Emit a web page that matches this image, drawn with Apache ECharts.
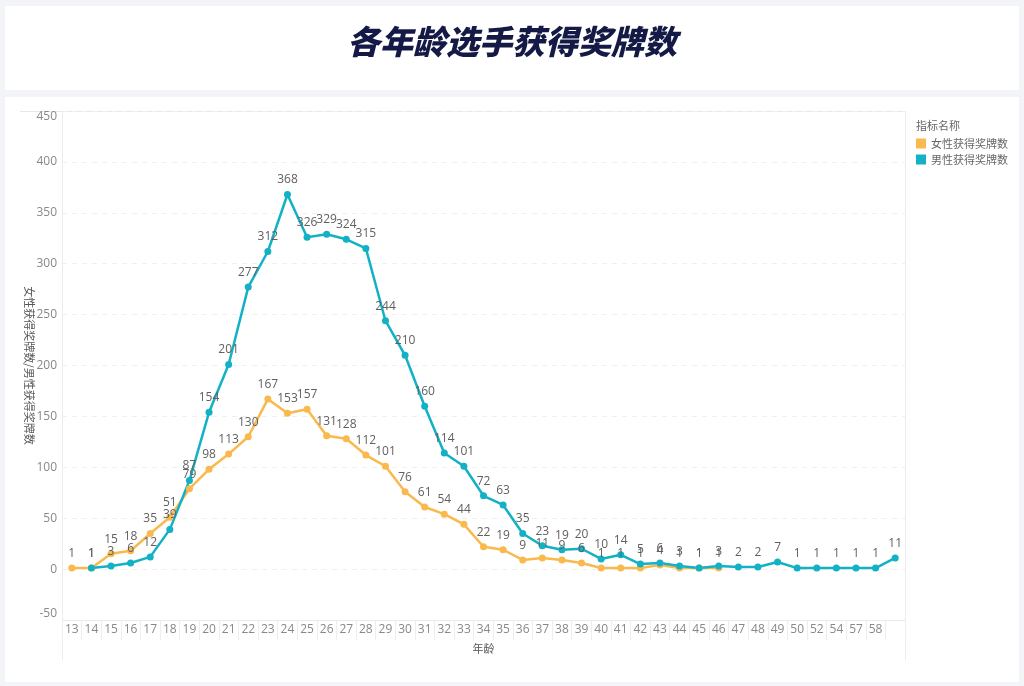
<!DOCTYPE html>
<html>
<head>
<meta charset="utf-8">
<script src="https://cdn.jsdelivr.net/npm/echarts@6/dist/echarts.min.js"></script>
<style>
html,body{margin:0;padding:0;background:#f3f4f7;}
#c{width:1024px;height:686px;}
</style>
</head>
<body>
<div id="c"></div>
<script>
const categories = ['13','14','15','16','17','18','19','20','21','22','23','24','25','26','27','28','29','30','31','32','33','34','35','36','37','38','39','40','41','42','43','44','45','46','47','48','49','50','52','54','57','58',''];
const femaleMedals = [1,1,15,18,35,51,79,98,113,130,167,153,157,131,128,112,101,76,61,54,44,22,19,9,11,9,6,1,1,1,4,1,1,1,null,null,null,null,null,null,null,null,null];
const maleMedals = [null,1,3,6,12,39,87,154,201,277,312,368,326,329,324,315,244,210,160,114,101,72,63,35,23,19,20,10,14,5,6,3,1,3,2,2,7,1,1,1,1,1,11];
const seriesNames = ['女性获得奖牌数','男性获得奖牌数'];
const yTicks = {min:-50, max:450, interval:50};

const chart = echarts.init(document.getElementById('c'));
const FONT = '"Noto Sans CJK SC","Noto Sans",sans-serif';
const NUMFONT = '"Open Sans","Noto Sans CJK SC",sans-serif';
const labelStyle = {show:true, position:'top', color:'#606060', fontSize:12, distance:5, fontFamily:NUMFONT};
chart.setOption({
  backgroundColor:'#f3f4f7',
  textStyle:{fontFamily:FONT},
  graphic:[
    {type:'rect', shape:{x:5,y:6,width:1014,height:84}, style:{fill:'#fff'}, z:-10, silent:true},
    {type:'rect', shape:{x:5,y:97,width:1014,height:585}, style:{fill:'#fff'}, z:-10, silent:true},
    {type:'line', shape:{x1:20,y1:111.5,x2:905,y2:111.5}, style:{stroke:'#e8e8e8',lineWidth:1}, z:-5, silent:true},
    {type:'line', shape:{x1:62.5,y1:111,x2:62.5,y2:660}, style:{stroke:'#ececec',lineWidth:1}, z:-5, silent:true},
    {type:'line', shape:{x1:905.5,y1:111,x2:905.5,y2:660}, style:{stroke:'#ececec',lineWidth:1}, z:-5, silent:true}
  ],
  title:[
    {text:'各年龄选手获得奖牌数', left:'center', top:20,
     textStyle:{fontSize:33, fontWeight:900, fontStyle:'italic', color:'#141a45', fontFamily:FONT}},
    {text:'指标名称', left:911, top:115, textStyle:{fontSize:11, fontWeight:'normal', color:'#666', fontFamily:FONT}}
  ],
  legend:{
    orient:'vertical', left:911, top:133, itemWidth:10, itemHeight:10, itemGap:5,
    icon:'rect', textStyle:{fontSize:11, color:'#666', fontFamily:FONT}, data:seriesNames
  },
  grid:{left:62, right:119, top:111, bottom:66, containLabel:false},
  xAxis:{
    type:'category', data:categories, boundaryGap:true,
    name:'年龄', nameLocation:'middle', nameGap:23,
    nameTextStyle:{color:'#555', fontSize:11},
    axisLine:{onZero:false, lineStyle:{color:'#eaeaea'}},
    axisTick:{show:true, length:20, lineStyle:{color:'#eeeeee'}},
    axisLabel:{color:'#888', fontSize:12, interval:0, margin:4, fontFamily:NUMFONT}
  },
  yAxis:{
    type:'value', min:yTicks.min, max:yTicks.max, interval:yTicks.interval,
    name:'女性获得奖牌数/男性获得奖牌数', nameLocation:'middle', nameRotate:-90, nameGap:27,
    nameMoveOverlap:false,
    nameTextStyle:{color:'#555', fontSize:11},
    axisLine:{show:false}, axisTick:{show:false},
    axisLabel:{color:'#888', fontSize:12, margin:5, fontFamily:NUMFONT, verticalAlignMaxLabel:'top', verticalAlignMinLabel:'bottom'},
    splitLine:{lineStyle:{color:'#efefef', type:[5,5]}}
  },
  series:[
    {name:seriesNames[0], type:'line', data:femaleMedals, color:'#f9b94c',
     symbol:'circle', symbolSize:7, lineStyle:{width:2.5}, label:labelStyle},
    {name:seriesNames[1], type:'line', data:maleMedals, color:'#13b1c5',
     symbol:'circle', symbolSize:7, lineStyle:{width:2.5}, label:labelStyle}
  ]
});
</script>
</body>
</html>
